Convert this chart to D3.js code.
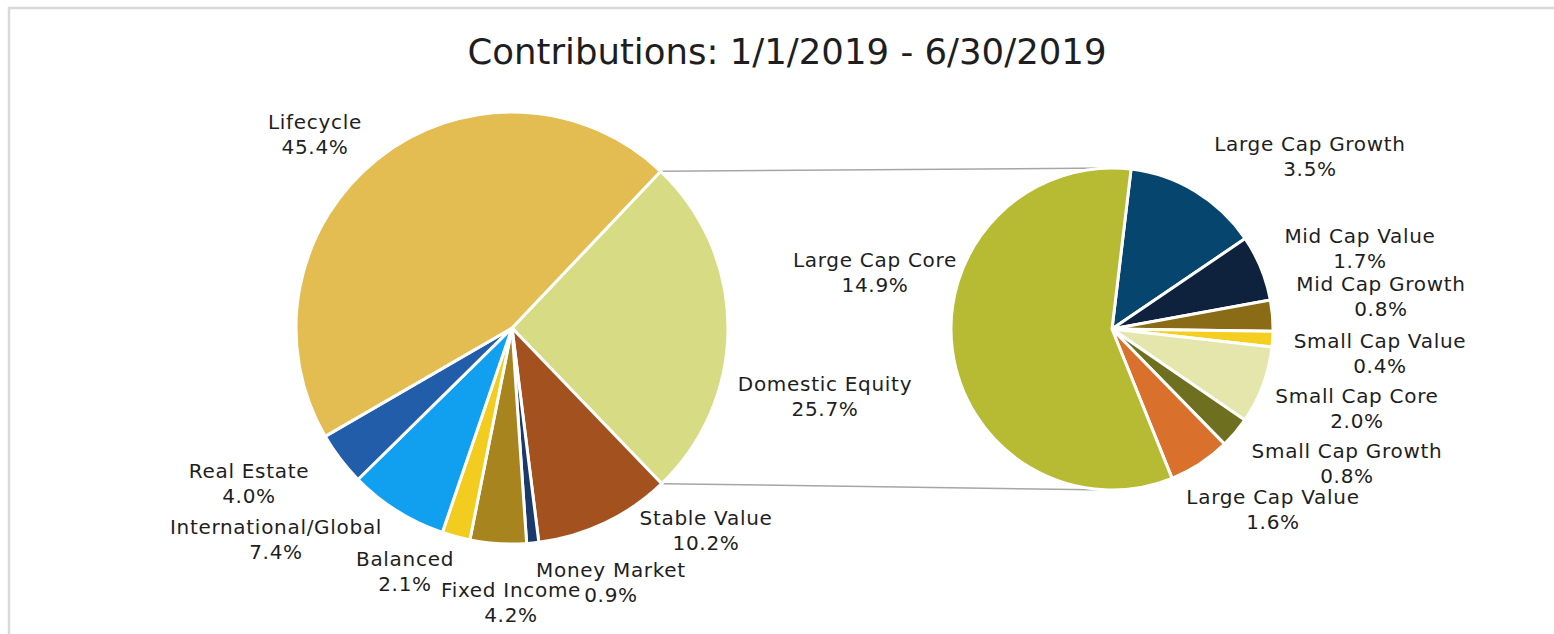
<!DOCTYPE html>
<html>
<head>
<meta charset="utf-8">
<script src="https://cdn.jsdelivr.net/npm/d3@7"></script>
<style>
  html, body { margin: 0; padding: 0; background: #fff; }
  svg { display: block; }
  text { font-family: "DejaVu Sans", sans-serif; fill: #1e1e1e; }
</style>
</head>
<body>
<svg id="chart" width="1554" height="634"></svg>
<script>
// ── data ──────────────────────────────────────────────────────────────────────
const TITLE = 'Contributions: 1/1/2019 - 6/30/2019';

// main pie, clockwise starting at the split edge (top-right)
const mainCategories = ['Domestic Equity', 'Stable Value', 'Money Market', 'Fixed Income',
  'Balanced', 'International/Global', 'Real Estate', 'Lifecycle'];
const mainValues = [25.7, 10.2, 0.9, 4.2, 2.1, 7.4, 4.0, 45.4];
const mainColors = ['#D7DC84', '#A3521F', '#1B3A6B', '#A8841F',
  '#F2CC1E', '#119FEF', '#215DA8', '#E3BD52'];

// breakdown of Domestic Equity, clockwise from the top
const subCategories = ['Large Cap Growth', 'Mid Cap Value', 'Mid Cap Growth', 'Small Cap Value',
  'Small Cap Core', 'Small Cap Growth', 'Large Cap Value', 'Large Cap Core'];
const subValues = [3.5, 1.7, 0.8, 0.4, 2.0, 0.8, 1.6, 14.9];
const subColors = ['#06466E', '#0E223E', '#8A6B16', '#F4CF22',
  '#E4E6AB', '#6E701F', '#D9702B', '#B7BB34'];

// ── layout ────────────────────────────────────────────────────────────────────
const MAIN = { cx: 512, cy: 328, r: 216, start: 43.5 };
const SUB  = { cx: 1112, cy: 329, r: 161, start: 6.8 };

// label block centres (x, baseline of first line)
const mainLabelPos = [[825, 391], [706, 525], [611, 577], [511, 597],
  [405, 566], [276, 534], [249, 478], [315, 129]];
const subLabelPos = [[1310, 151], [1360, 243], [1381, 291], [1380, 348],
  [1357, 403], [1347, 458], [1273, 504], [875, 267]];

const LINE_H = 25;
const deg = Math.PI / 180;

const svg = d3.select('#chart');

// frame
svg.append('rect')
  .attr('x', 9).attr('y', 8)
  .attr('width', 1570).attr('height', 660)
  .attr('fill', 'none')
  .attr('stroke', '#d9d9d9')
  .attr('stroke-width', 2.5);

svg.append('text')
  .attr('x', 787).attr('y', 64)
  .attr('text-anchor', 'middle')
  .attr('font-size', 35.5)
  .text(TITLE);

function drawPie(cfg, categories, values, colors, labelPos) {
  const pie = d3.pie().sort(null)
    .startAngle(cfg.start * deg)
    .endAngle(cfg.start * deg + 2 * Math.PI);
  const arcs = pie(values);
  const arc = d3.arc().innerRadius(0).outerRadius(cfg.r);

  const g = svg.append('g').attr('transform', `translate(${cfg.cx},${cfg.cy})`);
  g.selectAll('path')
    .data(arcs)
    .join('path')
    .attr('d', arc)
    .attr('fill', (d, i) => colors[i])
    .attr('stroke', '#fff')
    .attr('stroke-width', 3)
    .attr('stroke-linejoin', 'round');

  const labels = svg.append('g')
    .selectAll('text')
    .data(arcs)
    .join('text')
    .attr('text-anchor', 'middle')
    .attr('font-size', 20)
    .attr('letter-spacing', 0.7)
    .attr('x', (d, i) => labelPos[i][0])
    .attr('y', (d, i) => labelPos[i][1]);
  labels.append('tspan').text((d, i) => categories[i]);
  labels.append('tspan')
    .attr('x', (d, i) => labelPos[i][0])
    .attr('dy', LINE_H)
    .text(d => d.data.toFixed(1) + '%');
  return arcs;
}

// connector lines: split edges of the main pie to top / bottom of the sub pie
const split = d3.pie().sort(null)
  .startAngle(MAIN.start * deg)
  .endAngle(MAIN.start * deg + 2 * Math.PI)(mainValues)[0];
const edgePt = a => [MAIN.cx + MAIN.r * Math.sin(a), MAIN.cy - MAIN.r * Math.cos(a)];
const connectors = [
  [edgePt(split.startAngle), [SUB.cx, SUB.cy - SUB.r]],
  [edgePt(split.endAngle), [SUB.cx, SUB.cy + SUB.r]]
];
svg.append('g')
  .selectAll('line')
  .data(connectors)
  .join('line')
  .attr('x1', d => d[0][0]).attr('y1', d => d[0][1])
  .attr('x2', d => d[1][0]).attr('y2', d => d[1][1])
  .attr('stroke', '#a6a6a6')
  .attr('stroke-width', 1.5);

drawPie(MAIN, mainCategories, mainValues, mainColors, mainLabelPos);
drawPie(SUB, subCategories, subValues, subColors, subLabelPos);
</script>
</body>
</html>
